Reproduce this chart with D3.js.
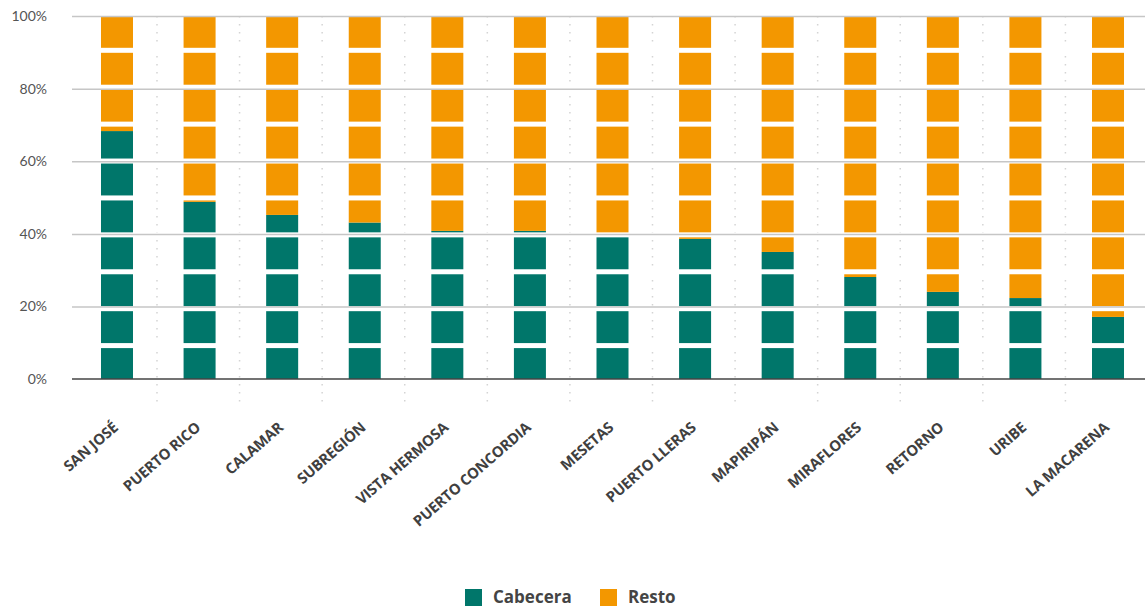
<!DOCTYPE html>
<html><head><meta charset="utf-8">
<script src="https://cdn.jsdelivr.net/npm/d3@7"></script>
<style>
html,body{margin:0;padding:0;background:#fff;}
svg{display:block;}
</style></head>
<body>
<svg id="chart" width="1145" height="609"></svg>
<script>
const categories = ["SAN JOSÉ","PUERTO RICO","CALAMAR","SUBREGIÓN","VISTA HERMOSA","PUERTO CONCORDIA","MESETAS","PUERTO LLERAS","MAPIRIPÁN","MIRAFLORES","RETORNO","URIBE","LA MACARENA"];
const cabecera = [68.3, 48.8, 45.2, 43.1, 40.8, 40.8, 39.8, 38.6, 35.0, 28.1, 24.0, 22.3, 17.1];
const resto    = [31.7, 51.2, 54.8, 56.9, 59.2, 59.2, 60.2, 61.4, 65.0, 71.9, 76.0, 77.7, 82.9];
const seriesNames = ["Cabecera","Resto"];
const colors = ["#00766a","#f39700"];
const yTicks = [0,20,40,60,80,100];
const bandLines = [10,20,30,40,50,60,70,80,90];

const svg = d3.select("#chart");
const plotLeft = 72, plotRight = 1145, plotTop = 16, plotBottom = 379;

const x = d3.scaleBand().domain(categories).range([75.7, 1149.3]).padding(0);
const barW = x.bandwidth() * 0.3875;
const y = d3.scaleLinear().domain([0,100]).range([plotBottom, plotTop]);
// segment breaks of the bars follow a slightly different pixel grid
const seg = d3.scaleLinear().domain([0,100]).range([380.0, 10.9]);

const rows = categories.map((c,i)=>({cat:c, Cabecera:cabecera[i], Resto:resto[i]}));
const stacked = d3.stack().keys(seriesNames)(rows);

const font = "'Open Sans', Lato, sans-serif";

// dotted separators
svg.append("g").selectAll("line").data(categories.slice(1)).join("line")
  .attr("x1", d=>x(d)-1.3).attr("x2", d=>x(d)-1.3)
  .attr("y1", plotTop).attr("y2", 404)
  .attr("stroke","#d4d4d4").attr("stroke-width",1.5)
  .attr("stroke-dasharray","1.5,6.5");

// bars
svg.append("g").selectAll("g").data(stacked).join("g")
  .attr("fill",(d,i)=>colors[i])
  .selectAll("rect").data(d=>d).join("rect")
  .attr("x", d=>x(d.data.cat) + (x.bandwidth()-barW)/2)
  .attr("width", barW)
  .attr("y", d=>y(d[1]))
  .attr("height", d=>y(d[0])-y(d[1]));

// white segment breaks
svg.append("g").selectAll("rect").data(bandLines).join("rect")
  .attr("x", plotLeft).attr("width", plotRight-plotLeft)
  .attr("y", d=>seg(d)).attr("height", 5)
  .attr("fill","#fff");

// gridlines
svg.append("g").selectAll("line").data(yTicks.filter(t=>t>0)).join("line")
  .attr("x1", plotLeft).attr("x2", plotRight)
  .attr("y1", d=>y(d)+0.6).attr("y2", d=>y(d)+0.6)
  .attr("stroke","#c6c6c6").attr("stroke-width",1.5);

// baseline
svg.append("line").attr("x1",plotLeft).attr("x2",plotRight)
  .attr("y1",y(0)).attr("y2",y(0)).attr("stroke","#444").attr("stroke-width",1.5);

// y axis labels
const yAxis = d3.axisLeft(y).tickValues(yTicks).tickFormat(d=>d+"%").tickSize(0).tickPadding(0);
const ya = svg.append("g").attr("transform","translate(47,0)").call(yAxis);
ya.select(".domain").remove();
ya.selectAll("text").attr("font-family","Lato, 'Open Sans', sans-serif").attr("font-size",14)
  .attr("fill","#555").attr("dy","0.32em");

// x labels
svg.append("g").selectAll("text").data(categories).join("text")
  .attr("transform", d=>`translate(${x(d)+x.bandwidth()/2+2},${429}) rotate(-41)`)
  .attr("text-anchor","end")
  .attr("font-family",font).attr("font-weight","bold")
  .attr("font-size",14.8).attr("fill","#404040")
  .attr("letter-spacing","-0.2")
  .text(d=>d);

// legend
const legend = svg.append("g");
const legX = [465, 600];
seriesNames.forEach((n,i)=>{
  legend.append("rect").attr("x",legX[i]).attr("y",589).attr("width",17).attr("height",17).attr("fill",colors[i]);
  legend.append("text").attr("x",legX[i]+28).attr("y",597.5).attr("dy","0.35em")
    .attr("font-family",font).attr("font-weight","bold")
    .attr("font-size",17).attr("fill","#444").text(n);
});
</script>
</body></html>
